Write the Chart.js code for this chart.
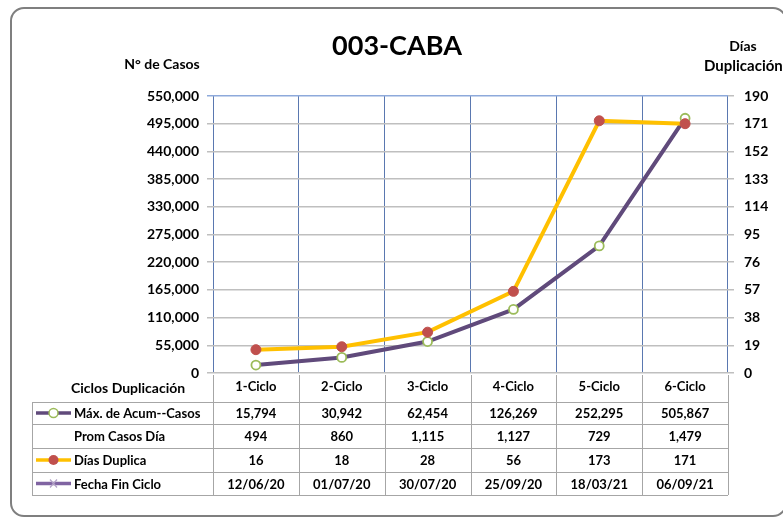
<!DOCTYPE html>
<html><head><meta charset="utf-8">
<script src="https://cdn.jsdelivr.net/npm/chart.js@4/dist/chart.umd.min.js"></script>
<style>html,body{margin:0;padding:0;background:#fff}#w{width:783px;height:519px;position:relative}</style>
</head><body><div id="w"><canvas id="c"></canvas></div>
<script>
const categories = ['1-Ciclo','2-Ciclo','3-Ciclo','4-Ciclo','5-Ciclo','6-Ciclo'];
const maxAcumCasos = [15794, 30942, 62454, 126269, 252295, 505867];
const promCasosDia = [494, 860, 1115, 1127, 729, 1479];
const diasDuplica = [16, 18, 28, 56, 173, 171];
const fechaFinCiclo = ['12/06/20','01/07/20','30/07/20','25/09/20','18/03/21','06/09/21'];
const rowLabels = ['Máx. de Acum--Casos','Prom Casos Día','Días Duplica','Fecha Fin Ciclo'];
const title = '003-CABA';
const leftTitle = 'N° de Casos';
const rightTitle = ['Días','Duplicación'];
const tableHeader = 'Ciclos Duplicación';

const FONT = 'Lato, "Open Sans", sans-serif';
const fmt = v => Number(v).toLocaleString('en-US');

const framePlugin = {
  id:'frame',
  beforeDraw(chart){
    const ctx = chart.ctx;
    ctx.save();
    ctx.fillStyle='#fff'; ctx.fillRect(0,0,chart.width,chart.height);
    ctx.strokeStyle='#7f7f7f'; ctx.lineWidth=2;
    ctx.beginPath(); ctx.roundRect(11,8,775,508,13); ctx.stroke();
    ctx.restore();
  },
  afterDraw(chart){
    const ctx = chart.ctx, xs = chart.scales.x, ca = chart.chartArea;
    ctx.save();
    ctx.fillStyle='#000'; ctx.textBaseline='middle'; ctx.textAlign='center';
    ctx.font='bold 27px '+FONT; ctx.fillText(title, 397, 46);
    ctx.font='bold 14px '+FONT; ctx.fillText(leftTitle, 162, 64);
    ctx.fillText(rightTitle[0], 743, 46);
    ctx.font='bold 15px '+FONT; ctx.textAlign='left'; ctx.fillText(rightTitle[1], 704, 66);
    ctx.textAlign='center';
    const step = xs.getPixelForValue(1) - xs.getPixelForValue(0);
    const colEdges = categories.map((c,i)=>xs.getPixelForValue(i)-step/2);
    colEdges.push(xs.getPixelForValue(categories.length-1)+step/2);
    const rowsY = [402,424,448,472,495];
    const tLeft = 32;
    ctx.strokeStyle='#a6a6a6'; ctx.lineWidth=1;
    ctx.beginPath();
    rowsY.forEach(y=>{ctx.moveTo(tLeft,y+0.5);ctx.lineTo(colEdges[colEdges.length-1],y+0.5);});
    ctx.moveTo(tLeft+0.5,rowsY[0]); ctx.lineTo(tLeft+0.5,rowsY[4]);
    colEdges.forEach(x=>{ctx.moveTo(Math.round(x)+0.5,ca.bottom+2);ctx.lineTo(Math.round(x)+0.5,rowsY[4]);});
    ctx.stroke();
    ctx.font='bold 13px '+FONT; ctx.fillStyle='#000'; ctx.textAlign='center';
    const headY = 387;
    categories.forEach((c,i)=>ctx.fillText(c, xs.getPixelForValue(i), headY));
    ctx.font='bold 14px '+FONT; ctx.textAlign='left';
    ctx.fillText(tableHeader, 71, headY+1);
    ctx.font='bold 13px '+FONT;
    const rows = [maxAcumCasos.map(fmt), promCasosDia.map(fmt), diasDuplica.map(String), fechaFinCiclo];
    rows.forEach((r,ri)=>{
      const cy = (rowsY[ri]+rowsY[ri+1])/2+1;
      ctx.textAlign='left'; ctx.fillText(rowLabels[ri], 74, cy);
      ctx.textAlign='center';
      r.forEach((v,i)=>ctx.fillText(v, xs.getPixelForValue(i), cy));
    });
    const key = (cy, color, marker)=>{
      ctx.strokeStyle=color; ctx.lineWidth=3.5; ctx.lineCap='butt';
      ctx.beginPath(); ctx.moveTo(36,cy); ctx.lineTo(71,cy); ctx.stroke();
      if(marker==='open'){ctx.fillStyle='#fff';ctx.strokeStyle='#9bbb59';ctx.lineWidth=1.5;ctx.beginPath();ctx.arc(53.5,cy,4.5,0,7);ctx.fill();ctx.stroke();}
      if(marker==='red'){ctx.fillStyle='#c0504d';ctx.beginPath();ctx.arc(53.5,cy,5,0,7);ctx.fill();}
      if(marker==='x'){ctx.strokeStyle='#b3a2c7';ctx.lineWidth=1.2;ctx.beginPath();ctx.moveTo(50,cy-4);ctx.lineTo(57,cy+4);ctx.moveTo(57,cy-4);ctx.lineTo(50,cy+4);ctx.stroke();}
    };
    key((rowsY[0]+rowsY[1])/2,'#604a7b','open');
    key((rowsY[2]+rowsY[3])/2,'#ffc000','red');
    key((rowsY[3]+rowsY[4])/2,'#8064a2','x');
    ctx.restore();
  }
};

new Chart(document.getElementById('c'), {
  type:'line',
  data:{
    labels:categories,
    datasets:[
      {label:'Días Duplica', data:diasDuplica, yAxisID:'y1', borderColor:'#ffc000', borderWidth:4,
       pointRadius:5, pointBackgroundColor:'#c0504d', pointBorderColor:'#c0504d', pointBorderWidth:1, tension:0, order:1},
      {label:'Máx. de Acum--Casos', data:maxAcumCasos, yAxisID:'y', borderColor:'#604a7b', borderWidth:4,
       pointRadius:4.5, pointBackgroundColor:'#fff', pointBorderColor:'#9bbb59', pointBorderWidth:1.8, tension:0, order:2}
    ]
  },
  options:{
    responsive:true, maintainAspectRatio:false, animation:false, devicePixelRatio:1,
    layout:{padding:{top:96,left:0,right:0,bottom:146}},
    plugins:{legend:{display:false}, tooltip:{enabled:false}},
    scales:{
      x:{offset:true, grid:{offset:true, color:'#5a78b0', lineWidth:1, drawTicks:false},
         ticks:{display:false}, border:{display:false},
         afterFit(s){s.height=0;}},
      y:{position:'left', min:0, max:550000, afterFit(s){s.width=213;},
         ticks:{stepSize:55000, callback:v=>fmt(v), color:'#000', font:{family:FONT, size:14, weight:'bold'}, padding:8},
         grid:{color:(c)=>c.index===10?'#8eaadb':'#bfbfbf', lineWidth:1.5, tickLength:6}, border:{display:false}},
      y1:{position:'right', min:0, max:190, afterFit(s){s.width=55;},
         ticks:{stepSize:19, color:'#000', font:{family:FONT, size:14, weight:'bold'}, padding:10},
         grid:{drawOnChartArea:false, color:'#bfbfbf', lineWidth:1.5, tickLength:6}, border:{display:false}}
    }
  },
  plugins:[framePlugin]
});
</script></body></html>
